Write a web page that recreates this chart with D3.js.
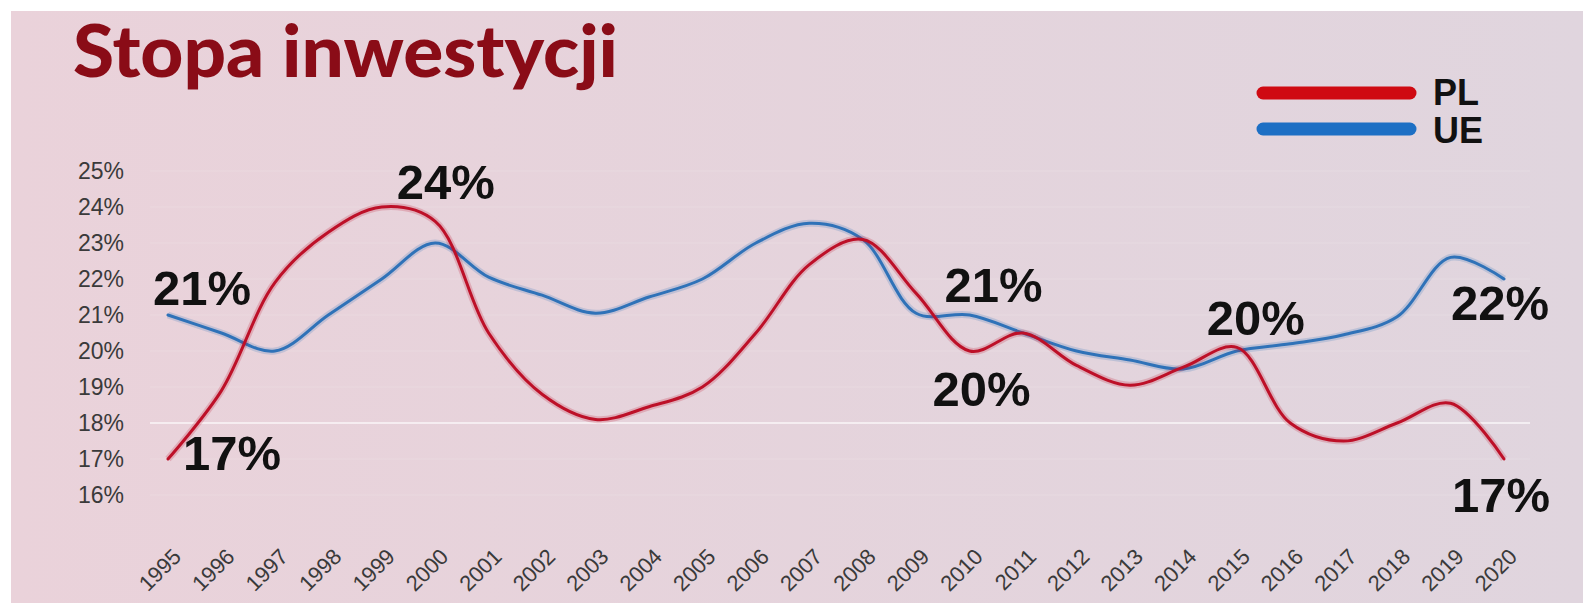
<!DOCTYPE html>
<html>
<head>
<meta charset="utf-8">
<script src="https://cdn.jsdelivr.net/npm/d3@7"></script>
<style>
  body { margin: 0; background: #fff; }
  svg { display: block; }
</style>
</head>
<body>
<div id="chart"></div>
<script>
// data
var years = d3.range(1995, 2021)
var pl = [17, 18.9, 21.9, 23.3, 24.0, 23.6, 20.5, 18.8, 18.1, 18.45, 19.0, 20.5, 22.4,
          23.1, 21.6, 20.0, 20.5, 19.6, 19.05, 19.55, 20.1, 18.0, 17.5, 18.0, 18.55, 17.0]
var ue = [21, 20.5, 20.0, 21.0, 22.0, 23.0, 22.05, 21.55, 21.05, 21.5, 22.0, 23.0, 23.55,
          23.1, 21.05, 21.0, 20.5, 20.0, 19.75, 19.5, 20.0, 20.2, 20.45, 20.95, 22.6, 22.0]
var yTicks = [16, 17, 18, 19, 20, 21, 22, 23, 24, 25]
// annotations: series, year, text, offset from the point
var notes = [
    {s: "ue", yr: 1995, t: "21%", dx: -15, dy: -10},
    {s: "pl", yr: 1995, t: "17%", dx: 15, dy: 11},
    {s: "pl", yr: 1999, t: "24%", dx: 15, dy: -8},
    {s: "ue", yr: 2010, t: "21%", dx: -25, dy: -13},
    {s: "pl", yr: 2010, t: "20%", dx: -37, dy: 55},
    {s: "pl", yr: 2015, t: "20%", dx: -30, dy: -12},
    {s: "ue", yr: 2020, t: "22%", dx: -53, dy: 41},
    {s: "pl", yr: 2020, t: "17%", dx: -52, dy: 53}
]

var W = 1583, H = 603
var red = "#bd1028", blue = "#2f72b8"

var svg = d3.select("#chart").append("svg")
    .attr("width", W)
    .attr("height", H)

var defs = svg.append("defs")
var grad = defs.append("linearGradient").attr("id", "bg")
grad.append("stop").attr("offset", "0%").attr("stop-color", "#ead2da")
grad.append("stop").attr("offset", "100%").attr("stop-color", "#e0d5de")

svg.append("rect")
    .attr("x", 11).attr("y", 11)
    .attr("width", W - 11).attr("height", H - 11)
    .attr("fill", "url(#bg)")

var x = d3.scaleLinear().domain([1995, 2020]).range([168, 1504])
var y = d3.scaleLinear().domain([16, 25]).range([495, 171])

// faint grid
svg.append("g").selectAll("line")
    .data(yTicks)
    .enter().append("line")
    .attr("x1", 150).attr("x2", 1530)
    .attr("y1", function(d) { return y(d) })
    .attr("y2", function(d) { return y(d) })
    .attr("stroke", "#fff")
    .attr("stroke-width", 1.5)
    .attr("stroke-opacity", function(d) { return d == 18 ? 0.8 : 0.1 })

// y axis labels
var yAxis = d3.axisLeft(y)
    .tickValues(yTicks)
    .tickFormat(function(d) { return d + "%" })
    .tickSize(0)
    .tickPadding(0)
var gy = svg.append("g")
    .attr("transform", "translate(124,0)")
    .call(yAxis)
gy.select(".domain").remove()
gy.selectAll("text")
    .attr("font-family", "Liberation Sans, Arial, sans-serif")
    .attr("font-size", 23)
    .attr("fill", "#3a3a3a")

// x axis labels
var xAxis = d3.axisBottom(x)
    .tickValues(years)
    .tickFormat(d3.format("d"))
    .tickSize(0)
var gx = svg.append("g")
    .attr("transform", "translate(0,558)")
    .call(xAxis)
gx.select(".domain").remove()
gx.selectAll("text")
    .attr("font-family", "Liberation Sans, Arial, sans-serif")
    .attr("font-size", 22)
    .attr("fill", "#3a3a3a")
    .attr("text-anchor", "end")
    .attr("dy", 0)
    .attr("y", 0)
    .attr("transform", "translate(14,0) rotate(-45)")

// lines
var line = d3.line()
    .x(function(d, i) { return x(years[i]) })
    .y(function(d) { return y(d) })
    .curve(d3.curveCatmullRom.alpha(0.5))

var series = [{k: "ue", v: ue, c: blue}, {k: "pl", v: pl, c: red}]
series.forEach(function(s) {
    svg.append("path")
        .attr("d", line(s.v))
        .attr("fill", "none")
        .attr("stroke", s.c)
        .attr("stroke-opacity", 0.2)
        .attr("stroke-width", 7)
    svg.append("path")
        .attr("d", line(s.v))
        .attr("fill", "none")
        .attr("stroke", s.c)
        .attr("stroke-width", 3)
        .attr("stroke-linecap", "round")
})

// annotations
var data = {pl: pl, ue: ue}
svg.append("g").selectAll("text")
    .data(notes)
    .enter().append("text")
    .attr("x", function(d) { return x(d.yr) + d.dx })
    .attr("y", function(d) { return y(data[d.s][d.yr - 1995]) + d.dy })
    .text(function(d) { return d.t })
    .attr("font-family", "Liberation Sans, Arial, sans-serif")
    .attr("font-weight", "bold")
    .attr("font-size", 49)
    .attr("fill", "#111")

// title
svg.append("text")
    .attr("x", 73)
    .attr("y", 77)
    .text("Stopa inwestycji")
    .attr("font-family", "Lato, sans-serif")
    .attr("font-weight", 900)
    .attr("font-size", 72)
    .attr("textLength", 545)
    .attr("lengthAdjust", "spacingAndGlyphs")
    .attr("fill", "#8a0c17")

// legend
var legend = svg.append("g")
legend.selectAll("line")
    .data([{n: "PL", c: "#cf0a12", y: 93}, {n: "UE", c: "#1d6fc4", y: 129}])
    .enter().append("line")
    .attr("x1", 1263).attr("x2", 1410)
    .attr("y1", function(d) { return d.y })
    .attr("y2", function(d) { return d.y })
    .attr("stroke", function(d) { return d.c })
    .attr("stroke-width", 13)
    .attr("stroke-linecap", "round")
legend.selectAll("text")
    .data([{n: "PL", y: 105}, {n: "UE", y: 143}])
    .enter().append("text")
    .attr("x", 1433)
    .attr("y", function(d) { return d.y })
    .text(function(d) { return d.n })
    .attr("font-family", "Liberation Sans, Arial, sans-serif")
    .attr("font-weight", "bold")
    .attr("font-size", 36)
    .attr("fill", "#111")
</script>
</body>
</html>
